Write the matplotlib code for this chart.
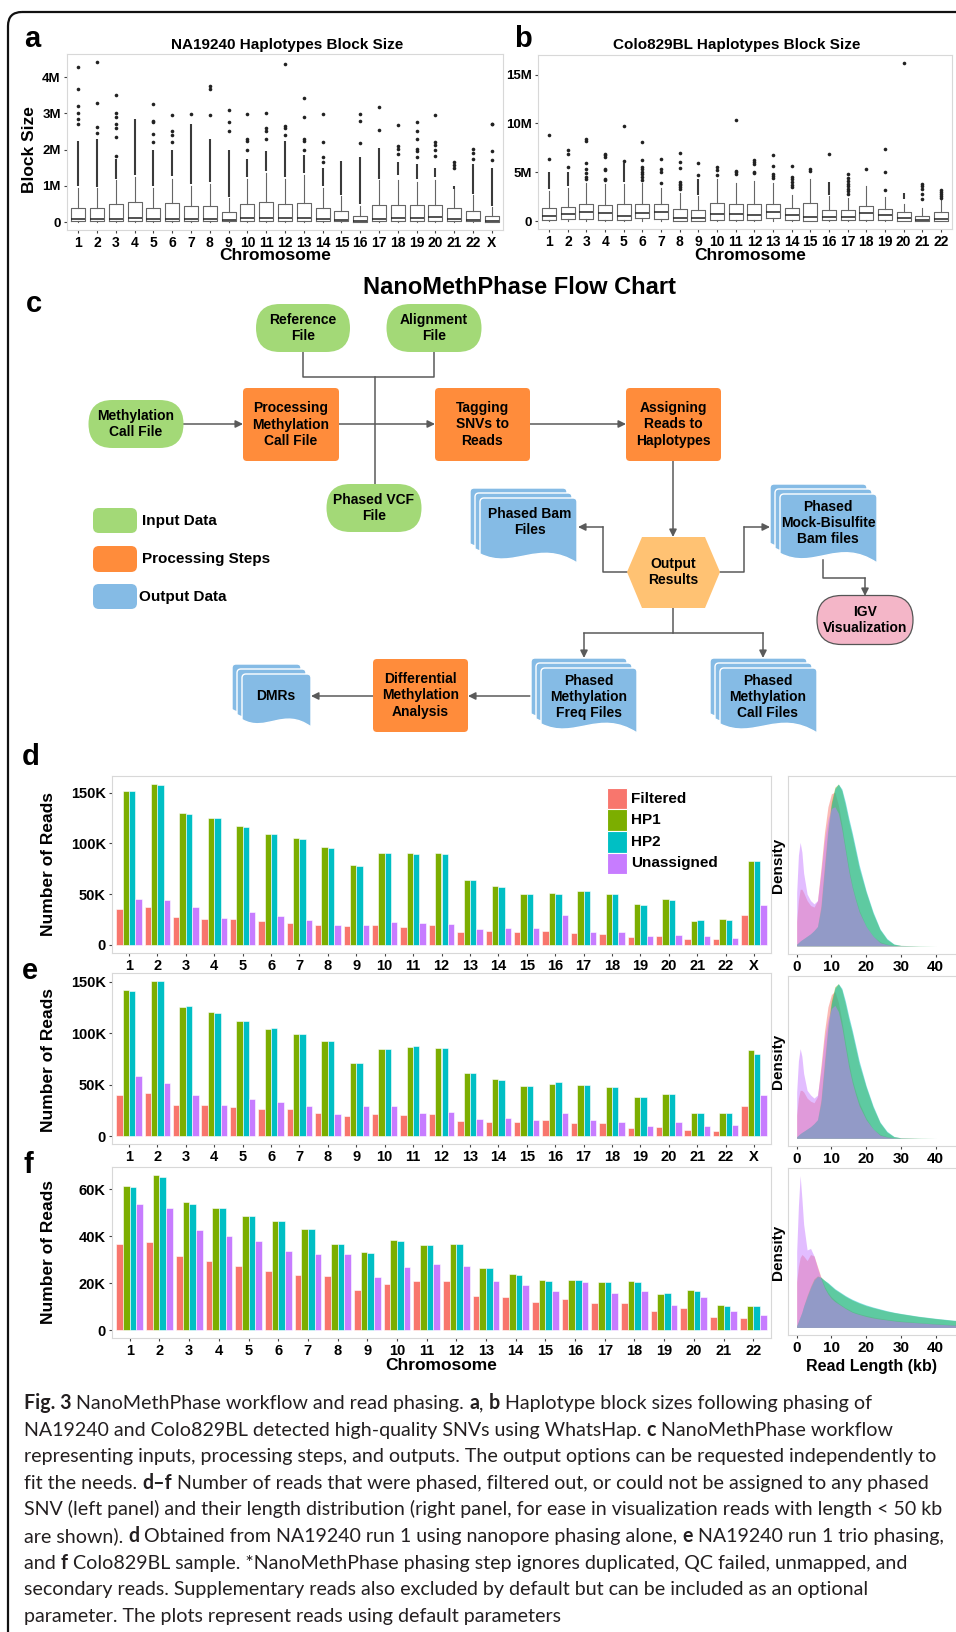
import numpy as np
import matplotlib
matplotlib.use('Agg')
import matplotlib.pyplot as plt
from matplotlib.patches import FancyBboxPatch, Polygon, PathPatch
from matplotlib.path import Path

plt.rcParams['font.family'] = ['Liberation Sans', 'DejaVu Sans']

# ---------------- data ----------------
CHROMS_X = [str(i) for i in range(1, 23)] + ['X']
CHROMS = [str(i) for i in range(1, 23)]

# a: NA19240 haplotype block size (Mb)
A_Q1 = [0.03, 0.03, 0.03, 0.03, 0.03, 0.03, 0.03, 0.03, 0.02, 0.03, 0.03, 0.03,
        0.03, 0.02, 0.02, 0.01, 0.03, 0.03, 0.03, 0.04, 0.03, 0.02, 0.01]
A_MED = [0.09, 0.08, 0.08, 0.10, 0.08, 0.09, 0.09, 0.09, 0.05, 0.12, 0.12, 0.12,
         0.12, 0.07, 0.05, 0.04, 0.09, 0.10, 0.12, 0.13, 0.07, 0.06, 0.04]
A_Q3 = [0.40, 0.39, 0.49, 0.54, 0.40, 0.52, 0.43, 0.45, 0.28, 0.50, 0.56, 0.50,
        0.52, 0.40, 0.30, 0.18, 0.48, 0.48, 0.47, 0.48, 0.38, 0.30, 0.18]
A_WHI = [0.95, 0.93, 1.15, 1.25, 0.95, 1.20, 1.00, 1.05, 0.65, 1.20, 1.35, 1.20,
         1.30, 0.95, 0.72, 0.45, 1.15, 1.15, 1.10, 1.15, 0.90, 0.75, 0.42]
A_DENSE = [(1.0, 2.25), (0.98, 2.3), (1.2, 1.75), (1.3, 2.85), (1.0, 2.0), (1.28, 2.0),
           (1.05, 2.7), (1.1, 2.3), (0.7, 2.0), (1.25, 1.75), (1.4, 1.95), (1.25, 2.25),
           (1.35, 1.85), (1.0, 1.5), (0.75, 1.68), (0.5, 1.8), (1.2, 2.05), (1.3, 1.65),
           (1.18, 1.6), (1.25, 1.5), (0.92, 1.0), (0.78, 1.6), (0.45, 1.5)]
A_SPARSE = [[2.7, 2.85, 3.0, 3.2, 3.67, 4.28], [2.45, 2.62, 3.3, 4.42],
            [1.83, 2.35, 2.6, 2.7, 2.9, 3.0, 3.52], [], [2.22, 2.42, 2.75, 2.8, 3.25],
            [2.2, 2.4, 2.5, 2.95], [2.97], [2.95, 3.68, 3.77], [2.5, 2.75, 3.1],
            [2.0, 2.25, 2.3, 2.98], [2.3, 2.5, 2.6, 3.0], [2.4, 2.6, 2.65, 4.37],
            [2.0, 2.25, 2.3, 2.9, 3.42], [1.65, 1.8, 2.2, 2.97], [], [2.17, 2.8, 2.97],
            [2.55, 3.17], [1.88, 2.02, 2.1, 2.68], [1.8, 1.95, 2.03, 2.3, 2.5, 2.75],
            [1.82, 2.0, 2.12, 2.2, 2.95], [1.5, 1.58, 1.65], [1.75, 1.92, 2.02],
            [1.7, 1.95, 2.7, 2.72]]

# b: Colo829BL haplotype block size (Mb)
B_Q1 = [0.10, 0.17, 0.17, 0.15, 0.10, 0.27, 0.25, 0.00, 0.00, 0.10, 0.15,
        0.10, 0.34, 0.15, 0.00, 0.10, 0.10, 0.10, 0.10, 0.00, 0.00, 0.00]
B_MED = [0.50, 0.68, 0.92, 0.79, 0.50, 0.82, 0.96, 0.34, 0.27, 0.68, 0.68,
         0.58, 0.96, 0.62, 0.40, 0.40, 0.45, 0.79, 0.65, 0.27, 0.14, 0.17]
B_Q3 = [1.30, 1.47, 1.78, 1.64, 1.70, 1.70, 1.70, 1.27, 1.10, 1.88, 1.80,
        1.80, 1.80, 1.37, 1.88, 1.10, 1.10, 1.54, 1.20, 0.92, 0.48, 0.96]
B_WHI = [3.1, 3.4, 3.9, 3.8, 3.8, 3.9, 3.4, 2.9, 2.6, 4.3, 3.9,
         4.1, 3.9, 2.7, 4.3, 2.55, 2.4, 3.6, 2.5, 1.8, 1.35, 2.15]
B_DENSE = [(3.3, 5.0), (3.6, 5.0), None, None, (4.0, 5.9), None, None, None,
           (2.7, 4.3), None, None, None, None, None, None, (2.7, 4.0), None,
           None, None, (2.3, 2.9), None, None]
B_SPARSE = [[6.4, 8.8], [5.5, 6.9, 7.3], [4.3, 4.5, 4.9, 5.3, 5.9, 8.2, 8.4],
            [4.2, 4.3, 5.2, 5.3, 6.6, 6.8, 6.9], [6.1, 9.7],
            [4.2, 4.5, 4.8, 5.0, 5.3, 5.5, 6.3, 8.1], [3.9, 5.0, 5.3, 6.4],
            [3.3, 3.5, 3.7, 3.8, 4.0, 5.4, 6.0, 7.0], [4.7, 5.9], [4.7, 5.2, 5.5],
            [4.8, 5.0, 5.1, 10.3], [4.9, 5.0, 5.8, 6.0, 6.3], [4.4, 4.6, 4.8, 5.6, 6.8],
            [3.5, 3.7, 4.0, 4.3, 4.5, 5.6], [5.1, 5.3], [6.9],
            [2.8, 3.1, 3.3, 3.6, 3.8, 4.1, 4.4, 4.8], [5.3], [3.2, 5.0, 7.4], [16.2],
            [2.3, 2.8, 3.3, 3.6, 3.8], [2.4, 2.6, 2.8, 3.0, 3.2]]

# d-f: number of reads (thousands)
READ_GROUPS = ['Filtered', 'HP1', 'HP2', 'Unassigned']
D_FILT = [35.1, 37.0, 28.0, 26.0, 25.4, 23.4, 22.0, 19.8, 18.5, 19.5, 17.9, 19.2,
          13.0, 13.7, 12.4, 13.3, 11.4, 11.1, 8.1, 9.1, 6.2, 5.5, 29.9]
D_HP1 = [152.0, 158.8, 130.0, 125.6, 116.8, 109.6, 105.4, 97.0, 78.7, 90.4, 90.4, 90.4,
         64.0, 58.6, 50.4, 51.1, 52.7, 49.8, 40.0, 44.9, 24.1, 25.7, 82.6]
D_HP2 = [151.3, 158.1, 129.0, 125.0, 116.0, 109.0, 104.4, 96.0, 77.4, 90.4, 90.1, 89.5,
         63.8, 57.6, 50.4, 50.7, 53.0, 49.8, 39.4, 44.2, 24.7, 25.0, 82.6]
D_UNAS = [45.5, 44.2, 37.0, 27.0, 32.8, 28.3, 24.4, 19.2, 19.2, 22.8, 21.5, 20.5,
          15.3, 16.3, 16.6, 29.9, 12.7, 12.7, 8.8, 9.4, 8.8, 6.5, 39.4]

E_FILT = [40.5, 42.4, 30.8, 30.5, 28.5, 26.9, 26.6, 22.7, 19.4, 21.7, 20.7, 22.0,
          15.2, 13.9, 13.9, 16.2, 13.0, 12.5, 8.5, 9.0, 6.0, 5.5, 29.0]
E_HP1 = [141.9, 151.0, 125.7, 120.9, 112.1, 104.3, 99.2, 92.7, 71.3, 85.2, 86.8, 85.9,
         61.6, 55.4, 49.3, 51.2, 49.8, 48.0, 38.0, 41.5, 23.0, 22.5, 84.0]
E_HP2 = [141.6, 150.7, 126.7, 120.2, 112.1, 105.0, 99.2, 92.7, 71.0, 84.9, 87.5, 85.5,
         61.2, 55.1, 49.3, 52.5, 50.2, 47.5, 38.0, 41.2, 23.0, 22.4, 79.5]
E_UNAS = [58.7, 51.8, 40.2, 30.5, 36.3, 33.4, 29.8, 21.4, 29.2, 29.2, 23.0, 23.3,
          17.2, 17.8, 16.2, 22.7, 15.5, 13.7, 9.8, 13.9, 9.7, 11.2, 40.0]

F_FILT = [36.8, 37.6, 31.6, 29.5, 27.4, 25.4, 23.4, 22.9, 17.3, 19.9, 20.9,
          20.9, 14.6, 14.0, 12.1, 13.4, 11.5, 11.8, 8.4, 9.6, 5.8, 5.1]
F_HP1 = [61.3, 66.0, 54.5, 52.1, 48.8, 46.3, 43.1, 36.8, 33.3, 38.5, 36.5,
         36.8, 26.6, 23.9, 21.2, 21.3, 20.6, 20.9, 15.5, 17.2, 10.8, 10.5]
F_HP2 = [60.8, 65.3, 53.9, 52.1, 48.6, 46.3, 42.9, 36.8, 33.1, 38.0, 36.2,
         36.8, 26.6, 23.6, 20.9, 21.2, 20.4, 20.6, 15.8, 16.8, 10.2, 10.5]
F_UNAS = [53.9, 51.9, 42.5, 40.3, 38.2, 33.8, 32.3, 32.3, 22.7, 27.0, 28.0,
          27.5, 20.8, 19.4, 16.8, 20.4, 15.8, 16.7, 10.9, 14.2, 8.2, 6.5]

# read length densities (relative units), sampled at these read lengths (kb)
KB = [0, 0.5, 1, 1.5, 2, 3, 4, 5, 6, 7, 8, 9, 10, 11, 12, 13, 14, 15, 16, 17, 18,
      20, 22, 24, 26, 28, 30, 35, 40, 45, 50]
DD_FILT = [1.5, 2.8, 3.5, 3.5, 3.3, 2.8, 2.5, 2.4, 2.8, 4.8, 7.0, 8.6, 9.4, 9.5, 8.7, 7.5,
           6.1, 4.8, 3.7, 2.9, 2.2, 1.2, 0.6, 0.25, 0.1, 0.03, 0.01, 0, 0, 0, 0]
DD_HP1 = [0.1, 0.2, 0.3, 0.38, 0.45, 0.6, 0.75, 0.95, 1.2, 2.5, 5.0, 7.3, 8.9, 9.8, 10.0, 9.6,
          8.7, 7.7, 6.8, 5.8, 4.8, 3.3, 2.0, 1.0, 0.4, 0.1, 0.03, 0.01, 0, 0, 0]
DD_HP2 = [0.1, 0.2, 0.3, 0.38, 0.45, 0.6, 0.75, 0.95, 1.2, 2.3, 4.6, 7.0, 8.7, 9.7, 10.0, 9.7,
          8.9, 7.9, 7.0, 6.0, 5.0, 3.4, 2.1, 1.05, 0.45, 0.12, 0.03, 0.01, 0, 0, 0]
DD_UNAS = [3.3, 5.6, 6.4, 5.8, 4.5, 3.2, 2.8, 2.6, 2.8, 4.5, 6.5, 7.8, 8.5, 8.6, 8.2, 7.2,
           5.9, 4.6, 3.6, 2.8, 2.1, 1.2, 0.6, 0.2, 0.08, 0.02, 0.01, 0, 0, 0, 0]

DE_FILT = [1.5, 2.6, 3.1, 3.1, 3.0, 2.6, 2.4, 2.3, 2.7, 4.7, 6.9, 8.5, 9.3, 9.5, 8.8, 7.6,
           6.2, 4.9, 3.8, 3.0, 2.3, 1.3, 0.6, 0.25, 0.1, 0.03, 0.01, 0, 0, 0, 0]
DE_HP1 = [0.1, 0.2, 0.3, 0.38, 0.45, 0.6, 0.75, 0.95, 1.2, 2.5, 5.0, 7.3, 8.9, 9.8, 10.0, 9.6,
          8.7, 7.7, 6.8, 5.8, 4.8, 3.3, 2.0, 1.0, 0.4, 0.1, 0.03, 0.01, 0, 0, 0]
DE_HP2 = [0.1, 0.2, 0.3, 0.38, 0.45, 0.6, 0.75, 0.95, 1.2, 2.3, 4.6, 7.0, 8.7, 9.7, 10.0, 9.7,
          8.9, 7.9, 7.0, 6.0, 5.0, 3.4, 2.1, 1.05, 0.45, 0.12, 0.03, 0.01, 0, 0, 0]
DE_UNAS = [3.0, 5.0, 5.8, 5.3, 4.2, 3.1, 2.8, 2.6, 2.8, 4.4, 6.4, 7.7, 8.4, 8.6, 8.2, 7.2,
           5.9, 4.6, 3.6, 2.8, 2.1, 1.2, 0.6, 0.2, 0.08, 0.02, 0.01, 0, 0, 0, 0]

DF_FILT = [3.0, 4.0, 4.6, 4.8, 4.7, 4.4, 4.8, 4.7, 4.0, 3.3, 2.7, 2.3, 2.0, 1.8, 1.6, 1.45,
           1.3, 1.18, 1.05, 0.97, 0.9, 0.78, 0.68, 0.6, 0.53, 0.47, 0.42, 0.32, 0.24, 0.17, 0.12]
DF_HP1 = [0.1, 0.4, 0.7, 1.0, 1.4, 2.1, 2.7, 3.2, 3.4, 3.3, 3.1, 2.9, 2.7, 2.5, 2.35, 2.2,
          2.05, 1.92, 1.8, 1.7, 1.6, 1.43, 1.3, 1.18, 1.07, 0.98, 0.9, 0.72, 0.58, 0.46, 0.38]
DF_HP2 = [0.1, 0.4, 0.7, 1.0, 1.4, 2.0, 2.6, 3.1, 3.35, 3.3, 3.1, 2.95, 2.75, 2.55, 2.4, 2.25,
          2.1, 1.97, 1.85, 1.75, 1.65, 1.48, 1.34, 1.22, 1.1, 1.0, 0.92, 0.74, 0.6, 0.48, 0.4]
DF_UNAS = [5.0, 8.0, 10.0, 8.5, 6.8, 5.1, 5.2, 4.7, 3.9, 3.2, 2.6, 2.2, 1.9, 1.7, 1.55, 1.4,
           1.25, 1.12, 1.0, 0.92, 0.85, 0.72, 0.62, 0.55, 0.49, 0.43, 0.38, 0.3, 0.22, 0.15, 0.1]

READ_COLORS = ['#F8766D', '#7CAE00', '#00BFC4', '#C77CFF']
GREEN, ORANGE, BLUE, HEXC, PINK = '#A3D977', '#FF8C3B', '#85BBE5', '#FFC273', '#F4B6C8'
LINE = '#5a5a5a'

W, H = 956, 1632
fig = plt.figure(figsize=(W / 100, H / 100), dpi=100)
ov = fig.add_axes([0, 0, 1, 1])
ov.set_xlim(0, W)
ov.set_ylim(H, 0)
ov.axis('off')


def rect(l, t, r, b):
    return [l / W, 1 - b / H, (r - l) / W, (b - t) / H]


def frame(ax):
    for s in ax.spines.values():
        s.set_color('#D8D8D8')
        s.set_linewidth(0.8)
    ax.tick_params(length=2.5, width=0.8, color='#444', pad=2)


# outer rounded border
ov.add_patch(FancyBboxPatch((8, 12), 1000, 1700, boxstyle='round,pad=0,rounding_size=14',
                            fc='none', ec='#111', lw=1.6))


# ---------------- a, b: block size boxplots ----------------
def block_panel(pos, labels, q1, med, q3, whi, sparse, dense, ylim, yticks, ylabels):
    ax = fig.add_axes(rect(*pos))
    xs = np.arange(1, len(labels) + 1)
    stats = [dict(med=m, q1=a, q3=c, whislo=0.0, whishi=w, fliers=f)
             for a, m, c, w, f in zip(q1, med, q3, whi, sparse)]
    ax.bxp(stats, positions=xs, widths=0.75, showcaps=False,
           boxprops=dict(color='#666', lw=0.8), whiskerprops=dict(color='#666', lw=0.8),
           medianprops=dict(color='#222', lw=1.1),
           flierprops=dict(marker='o', ms=2.6, mfc='#222', mec='none'))
    for x, d in zip(xs, dense):
        if d:
            ax.vlines(x, d[0], d[1], color='#3a3a3a', lw=1.5)
    ax.set_xlim(0.4, len(labels) + 0.6)
    ax.set_ylim(*ylim)
    ax.set_xticks(xs)
    ax.set_xticklabels(labels, fontsize=10, fontweight='bold')
    ax.set_yticks(yticks)
    ax.set_yticklabels(ylabels, fontsize=9.5, fontweight='bold')
    frame(ax)
    return ax


block_panel((67, 54, 503, 230), CHROMS_X, A_Q1, A_MED, A_Q3, A_WHI, A_SPARSE, A_DENSE,
            (-0.22, 4.64), [0, 1, 2, 3, 4], ['0', '1M', '2M', '3M', '4M'])
block_panel((538, 55, 952, 229), CHROMS, B_Q1, B_MED, B_Q3, B_WHI, B_SPARSE, B_DENSE,
            (-0.81, 17.0), [0, 5, 10, 15], ['0', '5M', '10M', '15M'])

ov.text(287, 45, 'NA19240 Haplotypes Block Size', ha='center', va='center', fontsize=11, fontweight='bold')
ov.text(737, 45, 'Colo829BL Haplotypes Block Size', ha='center', va='center', fontsize=11, fontweight='bold')
ov.text(30, 150, 'Block Size', rotation=90, ha='center', va='center', fontsize=12.5, fontweight='bold')
ov.text(275, 255, 'Chromosome', ha='center', va='center', fontsize=12.5, fontweight='bold')
ov.text(750, 255, 'Chromosome', ha='center', va='center', fontsize=12.5, fontweight='bold')
for lab, x, y in [('a', 24, 47), ('b', 514, 47), ('c', 26, 312), ('d', 22, 765), ('e', 22, 979), ('f', 24, 1173)]:
    ov.text(x, y, lab, ha='left', va='baseline', fontsize=21, fontweight='bold')


# ---------------- c: flow chart ----------------
def node_text(x, y, s, size=10):
    ov.text(x, y, s, ha='center', va='center', fontsize=size, fontweight='bold',
            linespacing=1.2, zorder=5)


def stadium(cx, cy, w, h, s, fc=GREEN, ec='none'):
    ov.add_patch(FancyBboxPatch((cx - w / 2, cy - h / 2), w, h, fc=fc, ec=ec, lw=0.9,
                                boxstyle=f'round,pad=0,rounding_size={h / 2}', zorder=3))
    node_text(cx, cy, s)


def process(l, t, r, b, s):
    ov.add_patch(FancyBboxPatch((l, t), r - l, b - t, fc=ORANGE, ec='none',
                                boxstyle='round,pad=0,rounding_size=4', zorder=3))
    node_text((l + r) / 2, (t + b) / 2, s)


def documents(x, y, w, h, s, tx, ty):
    for k in range(3):
        x0, y0 = x + 5 * k, y + 5 * k
        verts = [(x0, y0 + 4), (x0, y0), (x0 + 4, y0), (x0 + w - 4, y0), (x0 + w, y0),
                 (x0 + w, y0 + 4), (x0 + w, y0 + h),
                 (x0 + 0.6 * w, y0 + 0.62 * h), (x0 + 0.35 * w, y0 + 1.12 * h), (x0, y0 + 0.86 * h),
                 (x0, y0 + 4)]
        codes = [Path.MOVETO, Path.CURVE3, Path.CURVE3, Path.LINETO, Path.CURVE3, Path.CURVE3,
                 Path.LINETO, Path.CURVE4, Path.CURVE4, Path.CURVE4, Path.CLOSEPOLY]
        ov.add_patch(PathPatch(Path(verts, codes), fc=BLUE, ec='white', lw=1.0, zorder=3))
    node_text(tx, ty, s)


def seg(pts):
    xs, ys = zip(*pts)
    ov.plot(xs, ys, color=LINE, lw=1.1, zorder=2, solid_joinstyle='round')


def arrow(p0, p1):
    ov.annotate('', xy=p1, xytext=p0, zorder=2,
                arrowprops=dict(arrowstyle='-|>', color=LINE, lw=1.1, mutation_scale=11,
                                shrinkA=0, shrinkB=0))


ov.text(520, 288, 'NanoMethPhase Flow Chart', ha='center', va='center', fontsize=17, fontweight='bold')

# connectors
seg([(303, 352), (303, 377), (434, 377), (434, 352)])
seg([(375, 377), (375, 484)])
arrow((183, 424), (243, 424))
arrow((339, 424), (435, 424))
arrow((530, 424), (626, 424))
arrow((673, 461), (673, 537))
seg([(627, 572), (603, 572), (603, 527)])
arrow((603, 527), (578, 527))
seg([(720, 572), (744, 572), (744, 527)])
arrow((744, 527), (770, 527))
seg([(823, 560), (823, 578), (865, 578)])
arrow((865, 578), (865, 596))
seg([(673, 608), (673, 633)])
seg([(584, 633), (763, 633)])
arrow((584, 633), (584, 658))
arrow((763, 633), (763, 658))
arrow((531, 696), (468, 696))
arrow((373, 696), (311, 696))

stadium(303, 328, 94, 48, 'Reference\nFile')
stadium(434, 328, 95, 48, 'Alignment\nFile')
stadium(136, 424, 95, 48, 'Methylation\nCall File')
stadium(374, 508, 95, 48, 'Phased VCF\nFile')
stadium(865, 620, 96, 49, 'IGV\nVisualization', fc=PINK, ec='#555')
process(243, 388, 339, 461, 'Processing\nMethylation\nCall File')
process(435, 388, 530, 461, 'Tagging\nSNVs to\nReads')
process(626, 388, 721, 461, 'Assigning\nReads to\nHaplotypes')
process(373, 659, 468, 732, 'Differential\nMethylation\nAnalysis')
ov.add_patch(Polygon([(627, 572), (642, 537), (705, 537), (720, 572), (705, 608), (642, 608)],
                     closed=True, fc=HEXC, ec='none', zorder=3))
node_text(673, 572, 'Output\nResults')
documents(470, 488, 97, 65, 'Phased Bam\nFiles', 530, 522)
documents(770, 484, 97, 69, 'Phased\nMock-Bisulfite\nBam files', 828, 523)
documents(531, 658, 96, 65, 'Phased\nMethylation\nFreq Files', 589, 697)
documents(710, 658, 97, 65, 'Phased\nMethylation\nCall Files', 768, 697)
documents(232, 664, 69, 53, 'DMRs', 276, 696)

for (t, b), col, lab, tx in [((508, 533), GREEN, 'Input Data', 142),
                             ((546, 572), ORANGE, 'Processing Steps', 142),
                             ((584, 609), BLUE, 'Output Data', 139)]:
    ov.add_patch(FancyBboxPatch((93, t), 44, b - t, fc=col, ec='none',
                                boxstyle='round,pad=0,rounding_size=6', zorder=3))
    ov.text(tx, (t + b) / 2, lab, ha='left', va='center', fontsize=11, fontweight='bold')


# ---------------- d-f: reads per chromosome ----------------
def reads_panel(pos, labels, series, ylim, yticks, ylabels):
    ax = fig.add_axes(rect(*pos))
    xs = np.arange(1, len(labels) + 1)
    bw = 0.225
    for k, (vals, col) in enumerate(zip(series, READ_COLORS)):
        ax.bar(xs + (k - 1.5) * bw, vals, width=bw, color=col, edgecolor='white', linewidth=0.4)
    ax.set_xlim(0.4, len(labels) + 0.6)
    ax.set_ylim(*ylim)
    ax.set_xticks(xs)
    ax.set_xticklabels(labels, fontsize=10.5, fontweight='bold')
    ax.set_yticks(yticks)
    ax.set_yticklabels(ylabels, fontsize=10.5, fontweight='bold')
    frame(ax)
    return ax


def density_panel(pos, curves, xticks):
    ax = fig.add_axes(rect(*pos))
    for vals, col in zip(curves, READ_COLORS):
        ax.fill_between(KB, vals, color=col, alpha=0.5, lw=0)
    ax.set_xlim(-2.5, 52.5)
    ax.set_ylim(-0.5, 10.5)
    ax.set_yticks([])
    ax.set_xticks(xticks)
    ax.set_xticklabels([str(v) for v in xticks], fontsize=11, fontweight='bold')
    frame(ax)
    return ax


reads_panel((112, 776, 771, 953), CHROMS_X, [D_FILT, D_HP1, D_HP2, D_UNAS],
            (-7.9, 166.5), [0, 50, 100, 150], ['0', '50K', '100K', '150K'])
reads_panel((112, 973, 771, 1144), CHROMS_X, [E_FILT, E_HP1, E_HP2, E_UNAS],
            (-7.5, 158.6), [0, 50, 100, 150], ['0', '50K', '100K', '150K'])
reads_panel((112, 1167, 771, 1338), CHROMS, [F_FILT, F_HP1, F_HP2, F_UNAS],
            (-3.3, 69.5), [0, 20, 40, 60], ['0', '20K', '40K', '60K'])
density_panel((788, 776, 979, 954), [DD_FILT, DD_HP1, DD_HP2, DD_UNAS], [0, 10, 20, 30, 40])
density_panel((788, 976, 979, 1146), [DE_FILT, DE_HP1, DE_HP2, DE_UNAS], [0, 10, 20, 30, 40])
density_panel((788, 1168, 979, 1335), [DF_FILT, DF_HP1, DF_HP2, DF_UNAS], [0, 10, 20, 30, 40, 50])

ov.text(428, 791, 'NA19240 Nanopore Alone', ha='center', va='center', fontsize=12.5, zorder=10)
ov.text(433, 990, 'NA19240 Trio', ha='center', va='center', fontsize=12.5, zorder=10)
ov.text(443, 1185, 'Colo829BL', ha='center', va='center', fontsize=12.5, zorder=10)
for yc in (864, 1060, 1252):
    ov.text(49, yc, 'Number of Reads', rotation=90, ha='center', va='center', fontsize=12.5, fontweight='bold')
for yc in (865, 1061, 1252):
    ov.text(778, yc, 'Density', rotation=90, ha='center', va='center', fontsize=11, fontweight='bold')
ov.text(441, 1366, 'Chromosome', ha='center', va='center', fontsize=12.5, fontweight='bold')
ov.text(872, 1366, 'Read Length (kb)', ha='center', va='center', fontsize=11.5, fontweight='bold')

# legend of d drawn as stacked key squares
lg = fig.add_axes(rect(607, 788, 720, 874))
lg.set_xlim(0, 113)
lg.set_ylim(4, 0)
lg.axis('off')
for k, (lab, col) in enumerate(zip(READ_GROUPS, READ_COLORS)):
    lg.add_patch(plt.Rectangle((0, k), 20, 1, fc=col, ec='white', lw=0.8))
    lg.text(24, k + 0.5, lab, ha='left', va='center', fontsize=11, fontweight='bold')

# ---------------- caption ----------------
CAPTION = [
    [('Fig. 3', 1), (' NanoMethPhase workflow and read phasing. ', 0), ('a', 1), (', ', 0), ('b', 1),
     (' Haplotype block sizes following phasing of', 0)],
    [('NA19240 and Colo829BL detected high-quality SNVs using WhatsHap. ', 0), ('c', 1),
     (' NanoMethPhase workflow', 0)],
    [('representing inputs, processing steps, and outputs. The output options can be requested independently to', 0)],
    [('fit the needs. ', 0), ('d–f', 1),
     (' Number of reads that were phased, filtered out, or could not be assigned to any phased', 0)],
    [('SNV (left panel) and their length distribution (right panel, for ease in visualization reads with length < 50 kb', 0)],
    [('are shown). ', 0), ('d', 1), (' Obtained from NA19240 run 1 using nanopore phasing alone, ', 0), ('e', 1),
     (' NA19240 run 1 trio phasing,', 0)],
    [('and ', 0), ('f', 1), (' Colo829BL sample. *NanoMethPhase phasing step ignores duplicated, QC failed, unmapped, and', 0)],
    [('secondary reads. Supplementary reads also excluded by default but can be included as an optional', 0)],
    [('parameter. The plots represent reads using default parameters', 0)],
]
CAP_FONT = ['Lato', 'DejaVu Sans']
renderer = fig.canvas.get_renderer()


def run_width(s, bold, size):
    t = ov.text(0, 0, s, fontsize=size, fontweight='bold' if bold else 'normal', family=CAP_FONT)
    w = t.get_window_extent(renderer=renderer).width
    t.remove()
    return w


cap_size = 10 * 918 / run_width(CAPTION[2][0][0], 0, 10)
for i, line in enumerate(CAPTION):
    x = 24
    y = 1409 + i * 26.6
    for s, bold in line:
        ov.text(x, y, s, fontsize=cap_size, fontweight='bold' if bold else 'normal',
                family=CAP_FONT, ha='left', va='baseline', color='#231F20')
        x += run_width(s, bold, cap_size)

fig.savefig('out.png', dpi=100)
